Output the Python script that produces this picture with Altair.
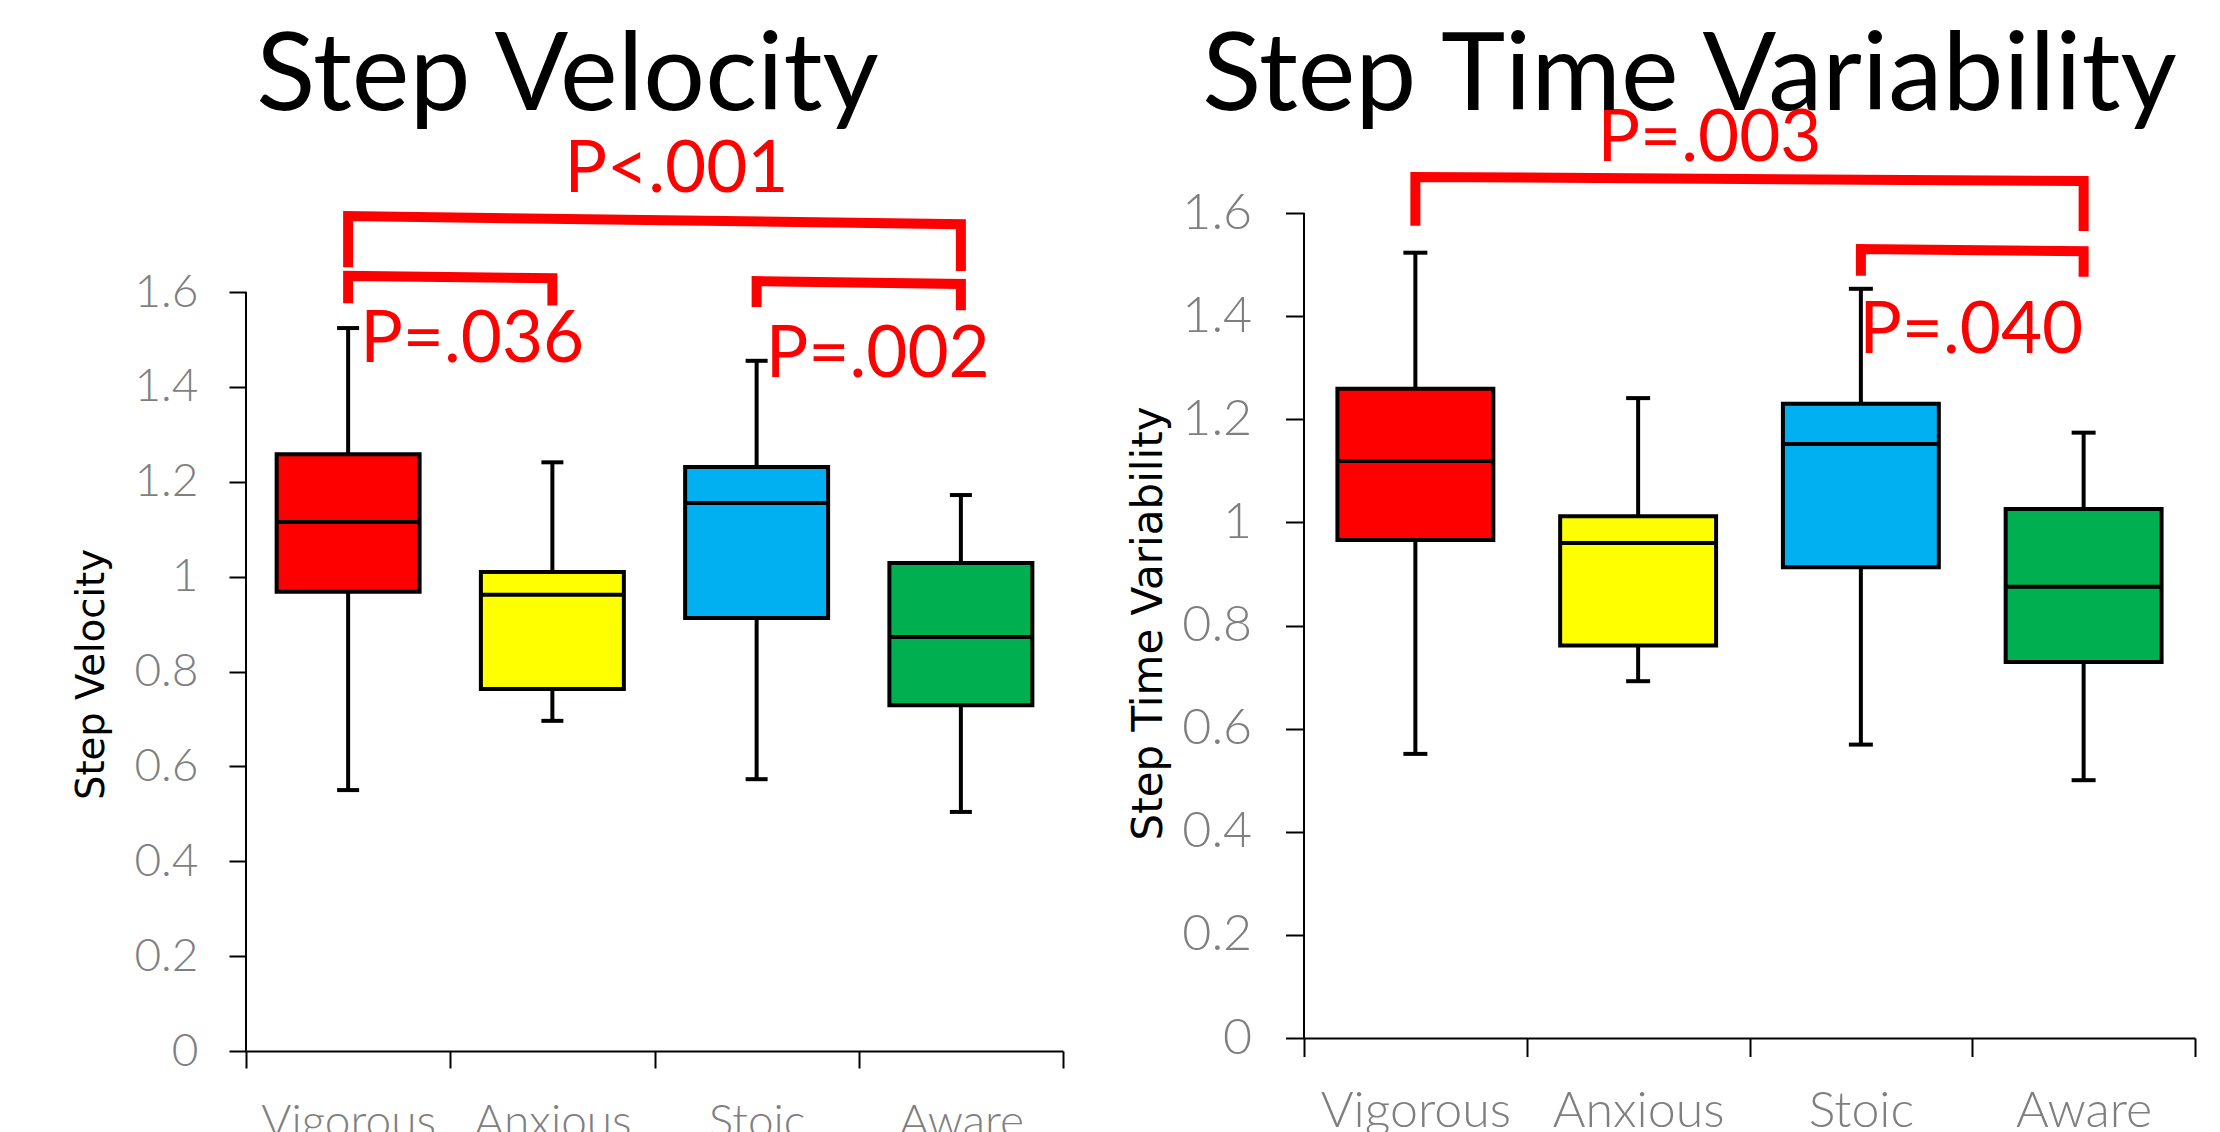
import altair as alt
import pandas as pd

groups = ["Vigorous", "Anxious", "Stoic", "Aware"]
box_colors = ["#FF0000", "#FFFF00", "#00B0F0", "#00B050"]
y_ticks = [0, 0.2, 0.4, 0.6, 0.8, 1.0, 1.2, 1.4, 1.6]

# Step Velocity box statistics
vel_min = [0.550, 0.696, 0.573, 0.504]
vel_q1 = [0.968, 0.763, 0.913, 0.729]
vel_med = [1.115, 0.962, 1.155, 0.873]
vel_q3 = [1.258, 1.010, 1.231, 1.029]
vel_max = [1.524, 1.241, 1.455, 1.172]

# Step Time Variability box statistics
var_min = [0.551, 0.692, 0.569, 0.500]
var_q1 = [0.966, 0.761, 0.913, 0.729]
var_med = [1.119, 0.960, 1.152, 0.875]
var_q3 = [1.259, 1.012, 1.230, 1.026]
var_max = [1.523, 1.241, 1.453, 1.174]

# significance brackets (data units)
vel_br_from = ["Vigorous", "Vigorous", "Stoic"]
vel_br_to = ["Aware", "Anxious", "Aware"]
vel_br_top_l = [1.760, 1.634, 1.623]
vel_br_top_r = [1.743, 1.629, 1.617]
vel_br_bot_l = [1.663, 1.587, 1.579]
vel_br_bot_r = [1.655, 1.582, 1.572]
vel_p_text = ["P<.001", "P=.036", "P=.002"]
vel_p_left_of = ["Anxious", "Vigorous", "Stoic"]
vel_p_y = [1.855, 1.497, 1.465]

var_br_from = ["Vigorous", "Stoic"]
var_br_to = ["Aware", "Aware"]
var_br_top_l = [1.670, 1.530]
var_br_top_r = [1.662, 1.526]
var_br_bot_l = [1.585, 1.488]
var_br_bot_r = [1.575, 1.486]
var_p_text = ["P=.003", "P=.040"]
var_p_left_of = ["Anxious", "Stoic"]
var_p_y = [1.742, 1.369]

FONT = "Lato"


def make_panel(title, ytitle, mins, q1s, meds, q3s, maxs,
               br_from, br_to, top_l, top_r, bot_l, bot_r,
               p_text, p_left_of, p_y, p_dx,
               width, height, ymax, k, xlabel_pad, ytitle_size, ytitle_pad,
               ytitle_y, title_offset, title_dx):
    box_df = pd.DataFrame({"group": groups, "lo": mins, "q1": q1s,
                           "med": meds, "q3": q3s, "hi": maxs})
    rows = []
    for i in range(len(br_from)):
        rows += [
            {"b": i, "o": 0, "group": br_from[i], "y": bot_l[i]},
            {"b": i, "o": 1, "group": br_from[i], "y": top_l[i]},
            {"b": i, "o": 2, "group": br_to[i], "y": top_r[i]},
            {"b": i, "o": 3, "group": br_to[i], "y": bot_r[i]},
        ]
    br_df = pd.DataFrame(rows)
    axis_df = pd.DataFrame({"group": [groups[0]], "y0": [y_ticks[0]], "y1": [y_ticks[-1]]})

    xscale = alt.Scale(domain=groups, paddingInner=0, paddingOuter=0)
    yscale = alt.Scale(domain=[0, ymax], nice=False, zero=False)
    xaxis = alt.Axis(title=None, labelAngle=0, tickBand="extent", labelLimit=0,
                     labelFont=FONT, labelFontSize=46 * k, labelFontWeight=300,
                     labelColor="#7f7f7f", labelPadding=xlabel_pad,
                     tickSize=17 * k, tickWidth=2, tickColor="black",
                     domainColor="black", domainWidth=2, grid=False)
    yaxis = alt.Axis(title=ytitle, values=y_ticks, format="~g", domain=False,
                     labelFont=FONT, labelFontSize=46 * k, labelFontWeight=300,
                     labelColor="#7f7f7f", labelPadding=31 * k,
                     tickSize=17 * k, tickWidth=2, tickColor="black", grid=False,
                     titleFont="DejaVu Sans", titleFontSize=ytitle_size,
                     titleFontWeight="normal", titleColor="black",
                     titlePadding=ytitle_pad, titleY=ytitle_y)

    def X(**kw):
        return alt.X("group:N", scale=xscale, axis=xaxis, **kw)

    def Y(field):
        return alt.Y(f"{field}:Q", scale=yscale, axis=yaxis)

    y_domain_line = alt.Chart(axis_df).mark_rule(color="black", strokeWidth=2).encode(
        x=X(bandPosition=0), y=Y("y0"), y2="y1")

    lw = 4
    base = alt.Chart(box_df)
    whisk_lo = base.mark_rule(color="black", strokeWidth=lw).encode(
        x=X(), y=Y("lo"), y2="q1")
    whisk_hi = base.mark_rule(color="black", strokeWidth=lw).encode(
        x=X(), y=Y("q3"), y2="hi")
    cap_lo = base.mark_tick(color="black", thickness=lw, size=22 * k,
                            opacity=1).encode(x=X(), y=Y("lo"))
    cap_hi = base.mark_tick(color="black", thickness=lw, size=22 * k,
                            opacity=1).encode(x=X(), y=Y("hi"))
    box = base.mark_bar(width=alt.RelativeBandSize(0.7), stroke="black",
                        strokeWidth=lw).encode(
        x=X(), y=Y("q1"), y2="q3",
        color=alt.Color("group:N", scale=alt.Scale(domain=groups, range=box_colors),
                        legend=None))
    band = width / 4
    med = base.mark_tick(color="black", thickness=lw, size=0.7 * band,
                         opacity=1).encode(x=X(), y=Y("med"))
    brackets = alt.Chart(br_df).mark_line(
        color="#FF0000", strokeWidth=10, strokeJoin="miter", strokeCap="square"
    ).encode(x=X(), y=Y("y"), detail="b:N", order="o:Q")

    layers = [y_domain_line, whisk_lo, whisk_hi, cap_lo, cap_hi, box, med, brackets]
    for i in range(len(p_text)):
        tdf = pd.DataFrame({"group": [p_left_of[i]], "y": [p_y[i]], "t": [p_text[i]]})
        layers.append(
            alt.Chart(tdf).mark_text(font=FONT, fontSize=71, color="#FF0000",
                                     align="center", baseline="middle",
                                     dx=p_dx[i]).encode(
                x=X(bandPosition=1), y=Y("y"), text="t:N"))

    return alt.layer(*layers).properties(
        width=width, height=height,
        title=alt.TitleParams(title, font=FONT, fontSize=109, fontWeight="normal",
                              color="black", anchor="middle",
                              offset=title_offset, dx=title_dx))


left = make_panel("Step Velocity", "Step Velocity",
                  vel_min, vel_q1, vel_med, vel_q3, vel_max,
                  vel_br_from, vel_br_to, vel_br_top_l, vel_br_top_r,
                  vel_br_bot_l, vel_br_bot_r,
                  vel_p_text, vel_p_left_of, vel_p_y, [22, 22, 19],
                  817, 952, 2.0069, 1.0, 32, 38.5, 22, 575, -34, -87)
right = make_panel("Step Time Variability", "Step Time Variability",
                   var_min, var_q1, var_med, var_q3, var_max,
                   var_br_from, var_br_to, var_br_top_l, var_br_top_r,
                   var_br_bot_l, var_br_bot_r,
                   var_p_text, var_p_left_of, var_p_y, [-40, -1],
                   891, 939, 1.8211, 1.09, 30, 42, 11, 524, -34, -60)

chart = alt.hconcat(left, right, spacing=63).configure_view(stroke=None).properties(
    padding={"left": 64, "top": 15, "right": 5, "bottom": 0},
    background="white")

chart.save("out.html", embed_options={"renderer": "svg", "actions": False})
